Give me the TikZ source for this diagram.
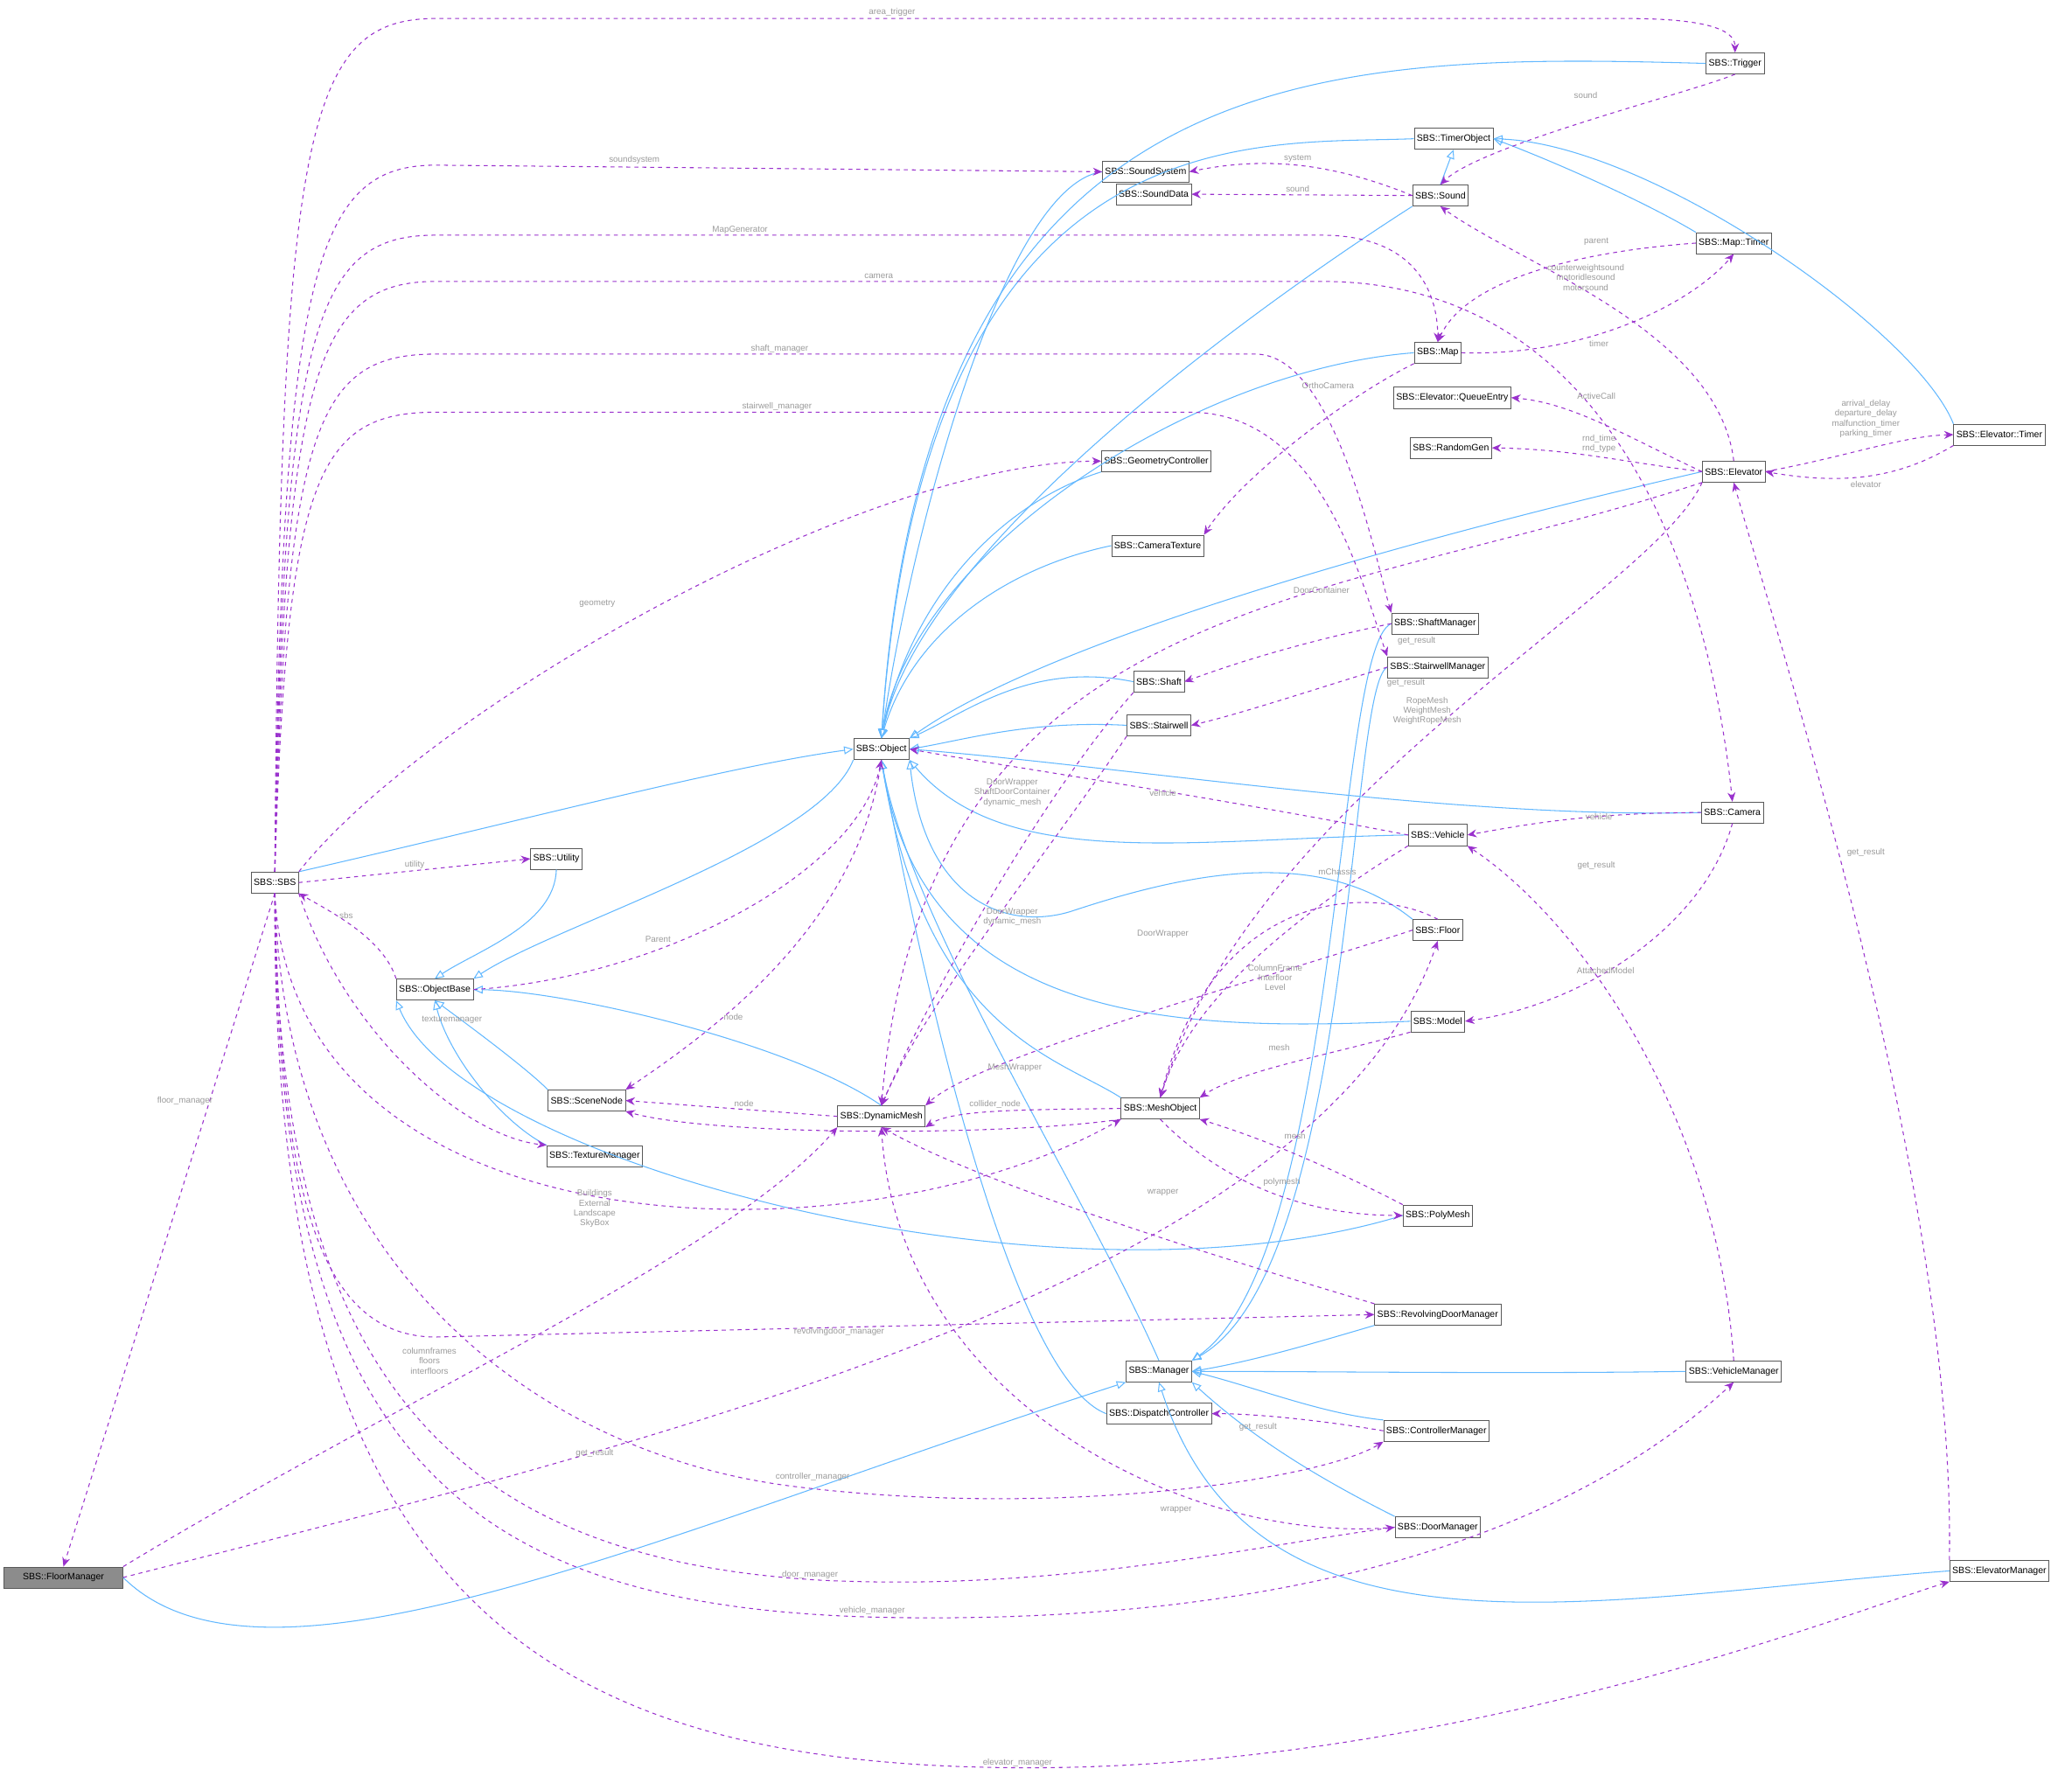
\documentclass[tikz,border=0pt]{standalone}
\usepackage{fontspec}
\setmainfont{Liberation Sans}
\usetikzlibrary{arrows.meta}
\definecolor{inhblue}{HTML}{63B8FF}
\definecolor{usepurple}{HTML}{9A32CD}
\definecolor{lblgray}{HTML}{9A9A9A}

\begin{document}
\begin{tikzpicture}
  [x=1pt,y=-1pt,
cls/.style={draw=black!65,fill=white,inner sep=2pt,minimum height=16pt,font=\fontsize{7}{8}\selectfont},
inh/.style={draw=inhblue,line width=0.7pt,-{Triangle[open,length=7pt,width=6pt]}},
use/.style={draw=usepurple,line width=0.7pt,dashed,-{Stealth[length=7pt,width=6pt]}},
lbl/.style={text=lblgray,font=\fontsize{6.5}{7.5}\selectfont,align=center,inner sep=0pt}]

\useasboundingbox (0,0) rectangle (1568,1344);

% classes
\node[cls,fill=black!45,minimum width=90pt] (fm) at (48,1194) {SBS::FloorManager};
\node[cls] (sbs) at (208,668) {SBS::SBS};
\node[cls] (trig) at (1313,48) {SBS::Trigger};
\node[cls] (tobj) at (1100,105) {SBS::TimerObject};
\node[cls] (ssys) at (867,130) {SBS::SoundSystem};
\node[cls] (sdata) at (873,147) {SBS::SoundData};
\node[cls] (snd) at (1090,148) {SBS::Sound};
\node[cls] (mtimer) at (1312,184) {SBS::Map::Timer};
\node[cls] (map) at (1088,267) {SBS::Map};
\node[cls] (qentry) at (1099,301) {SBS::Elevator::QueueEntry};
\node[cls] (rgen) at (1098,339) {SBS::RandomGen};
\node[cls] (elev) at (1312,357) {SBS::Elevator};
\node[cls] (etimer) at (1513,329) {SBS::Elevator::Timer};
\node[cls] (geo) at (875,349) {SBS::GeometryController};
\node[cls] (camtex) at (876,413) {SBS::CameraTexture};
\node[cls] (shmgr) at (1086,472) {SBS::ShaftManager};
\node[cls] (stmgr) at (1088,505) {SBS::StairwellManager};
\node[cls] (shaft) at (877,516) {SBS::Shaft};
\node[cls] (stair) at (877,549) {SBS::Stairwell};
\node[cls] (obj) at (667,567) {SBS::Object};
\node[cls] (cam) at (1311,615) {SBS::Camera};
\node[cls] (veh) at (1088,632) {SBS::Vehicle};
\node[cls] (util) at (421,650) {SBS::Utility};
\node[cls] (objb) at (329,749) {SBS::ObjectBase};
\node[cls] (floor) at (1088,704) {SBS::Floor};
\node[cls] (model) at (1088,773) {SBS::Model};
\node[cls] (snode) at (444,833) {SBS::SceneNode};
\node[cls] (dmesh) at (667,845) {SBS::DynamicMesh};
\node[cls] (mobj) at (878,839) {SBS::MeshObject};
\node[cls] (texmgr) at (450,875) {SBS::TextureManager};
\node[cls] (pmesh) at (1088,920) {SBS::PolyMesh};
\node[cls] (rdmgr) at (1088,995) {SBS::RevolvingDoorManager};
\node[cls] (mgr) at (877,1038) {SBS::Manager};
\node[cls] (vmgr) at (1312,1038) {SBS::VehicleManager};
\node[cls] (disp) at (877,1070) {SBS::DispatchController};
\node[cls] (cmgr) at (1087,1083) {SBS::ControllerManager};
\node[cls] (dmgr) at (1088,1156) {SBS::DoorManager};
\node[cls] (emgr) at (1513,1189) {SBS::ElevatorManager};

% inheritance
\draw[inh] (trig.west) .. controls (1000,40) and (700,40) .. (obj.north);
\draw[inh] (tobj.west) .. controls (950,110) and (700,80) .. (obj.north);
\draw[inh] (ssys.west) .. controls (760,140) and (690,400) .. (obj.north);
\draw[inh] (snd.south west) .. controls (1000,200) and (700,400) .. (obj.north);
\draw[inh] (map.west) .. controls (900,280) and (690,420) .. (obj.north);
\draw[inh] (geo.south west) .. controls (760,380) and (690,450) .. (obj.north);
\draw[inh] (camtex.west) .. controls (760,430) and (690,480) .. (obj.north);
\draw[inh] (elev.west) .. controls (1100,400) and (800,480) .. (obj.north east);
\draw[inh] (shaft.west) .. controls (780,500) and (730,540) .. (obj.north east);
\draw[inh] (stair.west) .. controls (780,545) and (730,560) .. (obj.east);
\draw[inh] (cam.west) .. controls (1100,620) and (850,580) .. (obj.east);
\draw[inh] (veh.west) .. controls (900,635) and (760,660) .. (obj.south east);
\draw[inh] (floor.north west) .. controls (1000,640) and (900,660) .. (810,690) .. controls (760,705) and (700,680) .. (obj.south east);
\draw[inh] (model.west) .. controls (900,780) and (700,780) .. (obj.south);
\draw[inh] (mobj.north west) .. controls (800,800) and (700,780) .. (obj.south);
\draw[inh] (mgr.north) .. controls (820,900) and (690,700) .. (obj.south);
\draw[inh] (disp.west) .. controls (760,1040) and (690,700) .. (obj.south);
\draw[inh] (sbs.north east) .. controls (400,620) and (550,580) .. (obj.west);
\draw[inh] (obj.south west) .. controls (620,640) and (420,700) .. (objb.north east);
\draw[inh] (util.south) .. controls (420,700) and (360,720) .. (objb.north);
\draw[inh] (snode.north west) .. controls (400,810) and (360,780) .. (objb.south);
\draw[inh] (dmesh.north) .. controls (600,790) and (430,750) .. (objb.east);
\draw[inh] (texmgr.north west) .. controls (380,850) and (340,800) .. (objb.south);
\draw[inh] (pmesh.west) .. controls (800,1000) and (350,880) .. (objb.south west);
\draw[inh] (snd.north) -- (tobj.south);
\draw[inh] (mtimer.north west) .. controls (1240,150) and (1170,120) .. (tobj.east);
\draw[inh] (etimer.north west) .. controls (1450,250) and (1250,110) .. (tobj.east);
\draw[inh] (shmgr.west) .. controls (1010,490) and (1015,950) .. (mgr.north east);
\draw[inh] (stmgr.west) .. controls (1020,520) and (1025,960) .. (mgr.north east);
\draw[inh] (rdmgr.south west) .. controls (1000,1015) and (950,1030) .. (mgr.east);
\draw[inh] (vmgr.west) .. controls (1150,1040) and (1000,1038) .. (mgr.east);
\draw[inh] (cmgr.north west) .. controls (1000,1070) and (950,1050) .. (mgr.east);
\draw[inh] (dmgr.north west) .. controls (1000,1120) and (950,1090) .. (mgr.south east);
\draw[inh] (emgr.west) .. controls (1200,1210) and (950,1270) .. (mgr.south);
\draw[inh] (fm.east) .. controls (200,1300) and (500,1160) .. (mgr.south west);

% usage from SBS
\draw[use] (sbs.north) .. controls (212,100) and (230,14) .. (330,14) -- (1230,14) .. controls (1300,14) and (1313,25) .. (trig.north);
\draw[use] (sbs.north) .. controls (213,200) and (240,125) .. (330,125) -- (ssys.west);
\draw[use] (sbs.north) .. controls (214,240) and (240,178) .. (330,178) -- (1000,178) .. controls (1070,178) and (1088,220) .. (map.north);
\draw[use] (sbs.north) .. controls (215,280) and (240,213) .. (330,213) -- (1000,213) .. controls (1250,213) and (1300,500) .. (cam.north);
\draw[use] (sbs.north) .. controls (216,320) and (240,268) .. (330,268) -- (950,268) .. controls (1010,268) and (1040,420) .. (shmgr.north west);
\draw[use] (sbs.north) .. controls (217,360) and (240,312) .. (330,312) -- (900,312) .. controls (1000,312) and (1030,440) .. (stmgr.north west);
\draw[use] (sbs.north east) .. controls (320,540) and (650,350) .. (geo.west);
\draw[use] (sbs.east) -- node[lbl,above,pos=0.5,yshift=1pt] {utility} (util.west);
\draw[use] (sbs.south east) .. controls (260,780) and (350,860) .. (texmgr.north west);
\draw[use] (sbs.south) -- (fm.north);
\draw[use] (sbs.south) .. controls (220,950) and (650,960) .. (mobj.south west);
\draw[use] (sbs.south) .. controls (212,900) and (240,1012) .. (330,1012) -- (rdmgr.west);
\draw[use] (sbs.south) .. controls (214,950) and (400,1100) .. (600,1125) .. controls (800,1150) and (1000,1120) .. (cmgr.south west);
\draw[use] (sbs.south) .. controls (210,1050) and (350,1180) .. (620,1196) .. controls (800,1205) and (950,1170) .. (dmgr.west);
\draw[use] (sbs.south) .. controls (208,1100) and (350,1215) .. (660,1224) .. controls (1000,1232) and (1200,1150) .. (vmgr.south);
\draw[use] (sbs.south) .. controls (205,1200) and (400,1336) .. (770,1338) .. controls (1100,1340) and (1400,1220) .. (emgr.south west);
\draw[use] (objb.north west) .. controls (290,710) and (250,690) .. (sbs.south east);
\draw[use] (objb.east) .. controls (500,740) and (650,660) .. (obj.south);

% other usage
\draw[use] (trig.south) .. controls (1280,70) and (1120,110) .. (snd.north);
\draw[use] (snd.west) .. controls (1000,120) and (950,120) .. (ssys.east);
\draw[use] (snd.west) -- (sdata.east);
\draw[use] (mtimer.west) .. controls (1200,190) and (1110,210) .. (map.north);
\draw[use] (map.east) .. controls (1200,270) and (1280,230) .. (mtimer.south);
\draw[use] (map.south west) .. controls (1020,300) and (940,360) .. (camtex.north east);
\draw[use] (elev.north) .. controls (1300,250) and (1150,200) .. (snd.south);
\draw[use] (elev.west) .. controls (1230,330) and (1190,305) .. (qentry.east);
\draw[use] (elev.west) .. controls (1230,350) and (1190,340) .. (rgen.east);
\draw[use] (elev.east) .. controls (1400,345) and (1440,330) .. (etimer.west);
\draw[use] (etimer.south west) .. controls (1440,360) and (1400,368) .. (elev.east);
\draw[use] (elev.south west) .. controls (1000,460) and (700,450) .. (dmesh.north);
\draw[use] (elev.south west) .. controls (1250,450) and (950,600) .. (mobj.north);
\draw[use] (shaft.south west) .. controls (790,600) and (700,760) .. (dmesh.north);
\draw[use] (stair.south west) .. controls (790,650) and (700,760) .. (dmesh.north);
\draw[use] (floor.west) .. controls (960,740) and (740,800) .. (dmesh.north east);
\draw[use] (veh.west) .. controls (900,600) and (760,580) .. (obj.east);
\draw[use] (veh.south west) .. controls (970,700) and (900,760) .. (mobj.north);
\draw[use] (floor.north) .. controls (1040,670) and (920,670) .. (mobj.north);
\draw[use] (model.south west) .. controls (1000,800) and (940,810) .. (mobj.north east);
\draw[use] (cam.west) .. controls (1200,615) and (1150,625) .. (veh.east);
\draw[use] (cam.south) .. controls (1290,700) and (1200,760) .. (model.east);
\draw[use] (obj.south) .. controls (650,700) and (540,780) .. (snode.north east);
\draw[use] (dmesh.west) -- (snode.east);
\draw[use] (mobj.south west) .. controls (760,860) and (540,860) .. (snode.south east);
\draw[use] (mobj.west) .. controls (770,840) and (720,840) .. (dmesh.south east);
\draw[use] (pmesh.north west) .. controls (1000,880) and (950,860) .. (mobj.south east);
\draw[use] (mobj.south) .. controls (920,890) and (980,920) .. (pmesh.west);
\draw[use] (rdmgr.north west) .. controls (950,960) and (750,900) .. (dmesh.south);
\draw[use] (dmgr.west) .. controls (900,1170) and (680,1060) .. (dmesh.south);
\draw[use] (fm.north east) .. controls (300,1060) and (550,950) .. (dmesh.south west);
\draw[use] (fm.east) .. controls (500,1090) and (1000,970) .. (floor.south);
\draw[use] (cmgr.west) .. controls (1000,1075) and (950,1070) .. (disp.east);
\draw[use] (shmgr.west) .. controls (990,485) and (940,500) .. (shaft.east);
\draw[use] (stmgr.west) .. controls (1000,520) and (940,540) .. (stair.east);
\draw[use] (vmgr.north) .. controls (1300,850) and (1200,700) .. (veh.south east);
\draw[use] (emgr.north west) .. controls (1480,900) and (1350,500) .. (elev.south);

% labels
\node[lbl] (la1) at (675,9) {area\_trigger};
\node[lbl] (la2) at (480,121) {soundsystem};
\node[lbl] (la3) at (560,174) {MapGenerator};
\node[lbl] (la4) at (665,209) {camera};
\node[lbl] (la5) at (590,264) {shaft\_manager};
\node[lbl] (la6) at (588,308) {stairwell\_manager};
\node[lbl] (la7) at (452,457) {geometry};
\node[lbl] (la8) at (342,772) {texturemanager};
\node[lbl] (la9) at (140,833) {floor\_manager};
\node[lbl] (la10) at (450,915) {Buildings\\External\\Landscape\\SkyBox};
\node[lbl] (la11) at (635,1008) {revolvingdoor\_manager};
\node[lbl] (la12) at (615,1118) {controller\_manager};
\node[lbl] (la13) at (613,1192) {door\_manager};
\node[lbl] (la14) at (660,1219) {vehicle\_manager};
\node[lbl] (la15) at (770,1334) {elevator\_manager};
\node[lbl] (la16) at (262,693) {sbs};
\node[lbl] (la17) at (498,711) {Parent};
\node[lbl] (lb1) at (1200,72) {sound};
\node[lbl] (lb2) at (982,120) {system};
\node[lbl] (lb3) at (982,143) {sound};
\node[lbl] (lb4) at (1208,183) {parent};
\node[lbl] (lb5) at (1210,260) {timer};
\node[lbl] (lb6) at (1005,292) {OrthoCamera};
\node[lbl] (lb7) at (1200,210) {counterweightsound\\motoridlesound\\motorsound};
\node[lbl] (lb8) at (1208,300) {ActiveCall};
\node[lbl] (lb9) at (1210,336) {rnd\_time\\rnd\_type};
\node[lbl] (lb10) at (1412,317) {arrival\_delay\\departure\_delay\\malfunction\_timer\\parking\_timer};
\node[lbl] (lb11) at (1412,367) {elevator};
\node[lbl] (lb12) at (1000,447) {DoorContainer};
\node[lbl] (lb13) at (1072,485) {get\_result};
\node[lbl] (lb14) at (1064,517) {get\_result};
\node[lbl] (lb15) at (1080,538) {RopeMesh\\WeightMesh\\WeightRopeMesh};
\node[lbl] (lb16) at (766,600) {DoorWrapper\\ShaftDoorContainer\\dynamic\_mesh};
\node[lbl] (lb17) at (880,600) {vehicle};
\node[lbl] (lb18) at (1210,618) {vehicle};
\node[lbl] (lb19) at (1208,655) {get\_result};
\node[lbl] (lb20) at (1412,645) {get\_result};
\node[lbl] (lb21) at (1012,660) {mChassis};
\node[lbl] (lb22) at (766,694) {DoorWrapper\\dynamic\_mesh};
\node[lbl] (lb23) at (880,707) {DoorWrapper};
\node[lbl] (lb24) at (965,740) {ColumnFrame\\Interfloor\\Level};
\node[lbl] (lb25) at (1215,735) {AttachedModel};
\node[lbl] (lb26) at (555,770) {node};
\node[lbl] (lb27) at (968,793) {mesh};
\node[lbl] (lb28) at (768,808) {MeshWrapper};
\node[lbl] (lb29) at (563,835) {node};
\node[lbl] (lb30) at (753,836) {collider\_node};
\node[lbl] (lb31) at (980,860) {mesh};
\node[lbl] (lb32) at (970,895) {polymesh};
\node[lbl] (lb33) at (880,903) {wrapper};
\node[lbl] (lb34) at (325,1030) {columnframes\\floors\\interfloors};
\node[lbl] (lb35) at (952,1080) {get\_result};
\node[lbl] (lb36) at (450,1100) {get\_result};
\node[lbl] (lb37) at (890,1143) {wrapper};
\end{tikzpicture}
\end{document}
